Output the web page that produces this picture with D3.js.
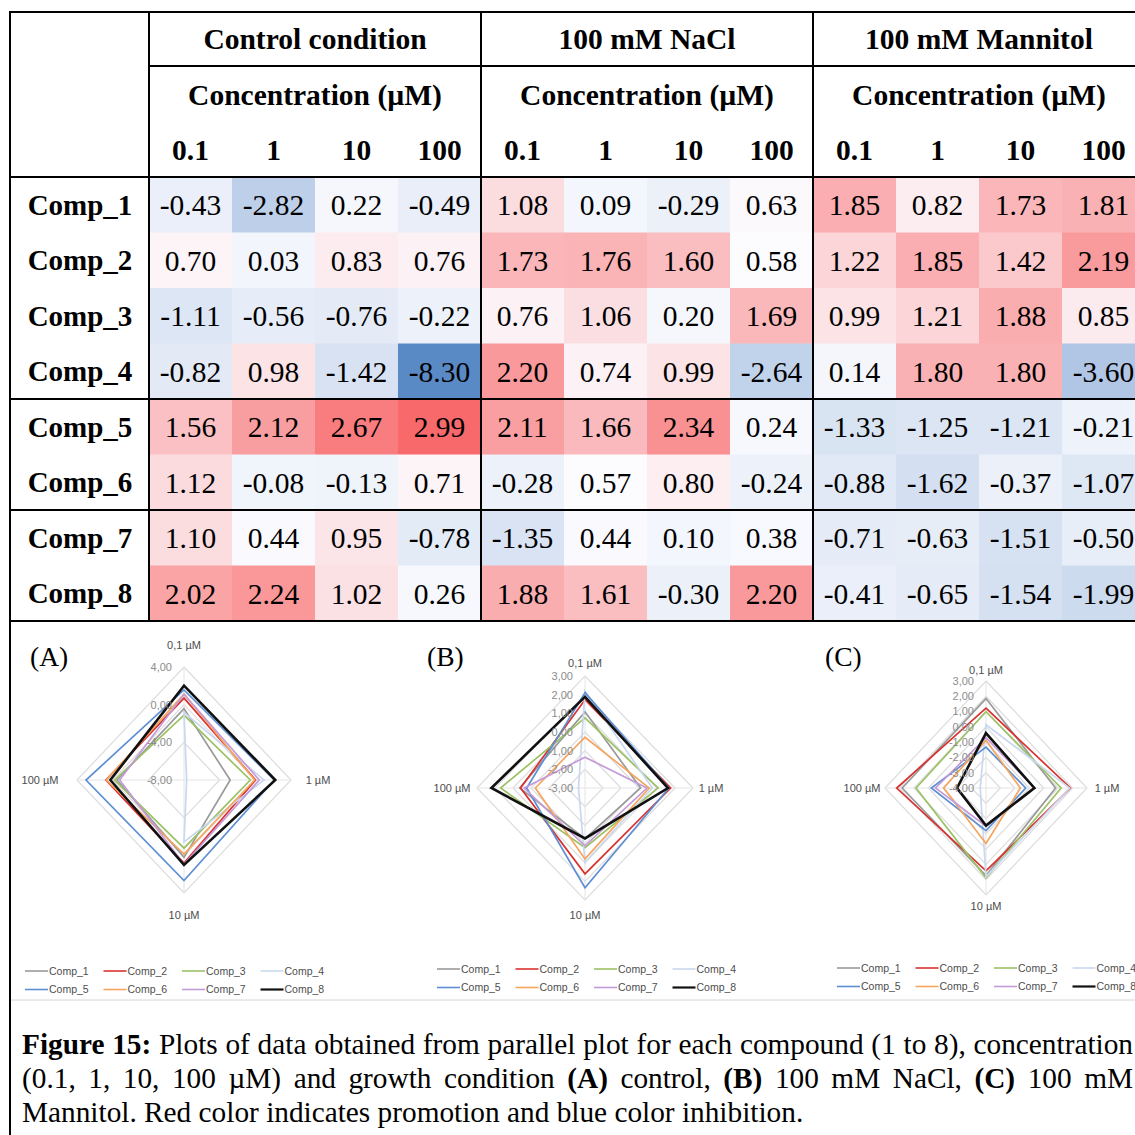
<!DOCTYPE html>
<html>
<head>
<meta charset="utf-8">
<script src="https://cdn.jsdelivr.net/npm/d3@7"></script>
<style>
  html, body { margin: 0; padding: 0; background: #fff; }
  svg { display: block; }
</style>
</head>
<body>
<svg id="fig" width="1135" height="1135"></svg>
<script>
// ---- data ----
const compounds = ["Comp_1", "Comp_2", "Comp_3", "Comp_4", "Comp_5", "Comp_6", "Comp_7", "Comp_8"];
const conditions = ["Control condition", "100 mM NaCl", "100 mM Mannitol"];
const concentrations = ["0.1", "1", "10", "100"];
const radarAxisLabels = ["0,1 µM", "1 µM", "10 µM", "100 µM"];
const panelLetters = ["(A)", "(B)", "(C)"];

// rows = compounds, columns = concentrations
const controlValues = [
  [-0.43, -2.82, 0.22, -0.49],
  [0.70, 0.03, 0.83, 0.76],
  [-1.11, -0.56, -0.76, -0.22],
  [-0.82, 0.98, -1.42, -8.30],
  [1.56, 2.12, 2.67, 2.99],
  [1.12, -0.08, -0.13, 0.71],
  [1.10, 0.44, 0.95, -0.78],
  [2.02, 2.24, 1.02, 0.26]
];
const naclValues = [
  [1.08, 0.09, -0.29, 0.63],
  [1.73, 1.76, 1.60, 0.58],
  [0.76, 1.06, 0.20, 1.69],
  [2.20, 0.74, 0.99, -2.64],
  [2.11, 1.66, 2.34, 0.24],
  [-0.28, 0.57, 0.80, -0.24],
  [-1.35, 0.44, 0.10, 0.38],
  [1.88, 1.61, -0.30, 2.20]
];
const mannitolValues = [
  [1.85, 0.82, 1.73, 1.81],
  [1.22, 1.85, 1.42, 2.19],
  [0.99, 1.21, 1.88, 0.85],
  [0.14, 1.80, 1.80, -3.60],
  [-1.33, -1.25, -1.21, -0.21],
  [-0.88, -1.62, -0.37, -1.07],
  [-0.71, -0.63, -1.51, -0.50],
  [-0.41, -0.65, -1.54, -1.99]
];

// radial axis extents and ring step of the three radar panels
const radarMin = [-8, -3, -4];
const radarMax = [4, 3, 3];
const radarStep = [4, 1, 1];

const seriesColors = ["#9a9a9a", "#d8312f", "#9cc165", "#c8d8ee", "#5e8fd3", "#f6a55e", "#c49ad9", "#111111"];

const captionLines = [
  ["*Figure", "*15:", "Plots", "of", "data", "obtained", "from", "parallel", "plot", "for", "each", "compound", "(1", "to", "8),", "concentration"],
  ["(0.1,", "1,", "10,", "100", "µM)", "and", "growth", "condition", "*(A)", "control,", "*(B)", "100", "mM", "NaCl,", "*(C)", "100", "mM"],
  ["Mannitol.", "Red", "color", "indicates", "promotion", "and", "blue", "color", "inhibition."]
];

// ---- setup ----
const svg = d3.select("#fig");
const serif = "'Liberation Serif', 'Times New Roman', serif";
const sans = "'Liberation Sans', Arial, Helvetica, sans-serif";
const conditionData = [controlValues, naclValues, mannitolValues];

// ---- heat-map table ----
const columnKeys = [];
conditions.forEach((c, ci) => concentrations.forEach((k, ki) => columnKeys.push(ci + "|" + ki)));
const x = d3.scaleBand().domain(columnKeys).range([149, 1145]);
const y = d3.scaleBand().domain(compounds).range([177, 621]);

const allValues = conditionData.flat(2);
const color = d3.scaleLinear()
  .domain([d3.min(allValues), d3.quantile(allValues, 0.5), d3.max(allValues)])
  .range(["#5a8ac6", "#fcfcff", "#f8696b"]);

const cells = [];
conditionData.forEach((tbl, ci) => tbl.forEach((row, ri) => row.forEach((v, ki) => {
  cells.push({ col: ci + "|" + ki, comp: compounds[ri], v });
})));

const table = svg.append("g");
table.selectAll("rect.cell").data(cells).join("rect")
  .attr("class", "cell")
  .attr("x", d => x(d.col)).attr("y", d => y(d.comp))
  .attr("width", x.bandwidth() + 0.5).attr("height", y.bandwidth() + 0.5)
  .attr("fill", d => color(d.v));

table.selectAll("text.val").data(cells).join("text")
  .attr("class", "val")
  .attr("x", d => x(d.col) + x.bandwidth() / 2)
  .attr("y", d => y(d.comp) + y.bandwidth() / 2)
  .attr("dy", "0.35em")
  .attr("text-anchor", "middle")
  .style("font-family", serif).style("font-size", "29.5px").attr("fill", "#000")
  .text(d => d.v.toFixed(2));

table.selectAll("text.comp").data(compounds).join("text")
  .attr("class", "comp")
  .attr("x", 80).attr("y", d => y(d) + y.bandwidth() / 2).attr("dy", "0.35em")
  .attr("text-anchor", "middle")
  .style("font-family", serif).style("font-size", "29px").style("font-weight", "bold")
  .text(d => d);

// header rows
const groupX = ci => x(ci + "|0");
const groupW = x.bandwidth() * 4;
const headerSize = "29.5px";
conditions.forEach((c, ci) => {
  table.append("text")
    .attr("x", groupX(ci) + groupW / 2).attr("y", 39).attr("dy", "0.35em")
    .attr("text-anchor", "middle")
    .style("font-family", serif).style("font-size", headerSize).style("font-weight", "bold")
    .text(c);
  table.append("text")
    .attr("x", groupX(ci) + groupW / 2).attr("y", 95).attr("dy", "0.35em")
    .attr("text-anchor", "middle")
    .style("font-family", serif).style("font-size", headerSize).style("font-weight", "bold")
    .text("Concentration (µM)");
});
table.selectAll("text.conc").data(columnKeys).join("text")
  .attr("class", "conc")
  .attr("x", d => x(d) + x.bandwidth() / 2).attr("y", 150).attr("dy", "0.35em")
  .attr("text-anchor", "middle")
  .style("font-family", serif).style("font-size", headerSize).style("font-weight", "bold")
  .text(d => concentrations[+d.split("|")[1]]);

// grid lines
const rule = (x1, y1, x2, y2, w, c) => table.append("line")
  .attr("x1", x1).attr("y1", y1).attr("x2", x2).attr("y2", y2)
  .attr("stroke", c || "#000").attr("stroke-width", w || 2);
rule(10, 12, 1135, 12);
rule(149, 66, 1135, 66);
rule(10, 177, 1135, 177);
rule(10, y("Comp_5"), 1135, y("Comp_5"));
rule(10, y("Comp_7"), 1135, y("Comp_7"));
rule(10, 621, 1135, 621);
rule(149, 12, 149, 621);
[1, 2].forEach(ci => rule(groupX(ci), 12, groupX(ci), 621));
rule(10, 11, 10, 1135);
rule(11, 1000, 1135, 1000, 1, "#d6d6d6");

// ---- radar charts ----
const radarGeom = [
  { cx: 184, cy: 780, rx: 107, ry: 113, letterX: 30, legX: 25, legY: 971, axisLab: [645, 318, 915, 40] },
  { cx: 585, cy: 788, rx: 108, ry: 112, letterX: 427, legX: 437, legY: 969, axisLab: [663, 711, 915, 452] },
  { cx: 986, cy: 788, rx: 101, ry: 107, letterX: 825, legX: 837, legY: 968, axisLab: [670, 1107, 906, 862] }
];
const angles = concentrations.map((c, i) => i * Math.PI / 2);
const commaFmt = d3.formatLocale({ decimal: ",", thousands: ".", grouping: [3], currency: ["", ""], minus: "-" }).format(".2f");

conditionData.forEach((tbl, pi) => {
  const g = radarGeom[pi];
  const panel = svg.append("g");
  const r = d3.scaleLinear().domain([radarMin[pi], radarMax[pi]]).range([0, 1]);
  const ticks = d3.range(radarMin[pi] + radarStep[pi], radarMax[pi] + radarStep[pi] / 2, radarStep[pi]);
  const pt = (v, i) => [g.cx + g.rx * r(v) * Math.sin(angles[i]), g.cy - g.ry * r(v) * Math.cos(angles[i])];

  // rings and spokes
  const ring = d3.line().curve(d3.curveLinearClosed);
  panel.selectAll("path.ring").data(ticks).join("path")
    .attr("d", t => ring(angles.map((a, i) => pt(t, i))))
    .attr("fill", "none").attr("stroke", "#dcdcdc").attr("stroke-width", 1.2);
  panel.selectAll("line.spoke").data(angles).join("line")
    .attr("x1", g.cx).attr("y1", g.cy)
    .attr("x2", (a, i) => pt(radarMax[pi], i)[0]).attr("y2", (a, i) => pt(radarMax[pi], i)[1])
    .attr("stroke", "#e4e4e4").attr("stroke-width", 1);

  // series
  const line = d3.line().curve(d3.curveLinearClosed);
  panel.selectAll("path.series").data(tbl).join("path")
    .attr("d", row => line(row.map((v, i) => pt(v, i))))
    .attr("fill", "none")
    .attr("stroke", (row, si) => seriesColors[si])
    .attr("stroke-width", (row, si) => si === 7 ? 2.6 : 1.7)
    .attr("stroke-linejoin", "miter");

  // ring value labels
  panel.selectAll("text.tick").data([radarMin[pi]].concat(ticks)).join("text")
    .attr("x", g.cx - 12)
    .attr("y", t => g.cy - g.ry * r(t)).attr("dy", "0.35em")
    .attr("text-anchor", "end")
    .style("font-family", sans).style("font-size", "11px").attr("fill", "#8c8c8c")
    .text(t => commaFmt(t));

  // axis labels
  const L = g.axisLab;
  const labPos = [[g.cx, L[0]], [L[1], g.cy], [g.cx, L[2]], [L[3], g.cy]];
  panel.selectAll("text.axis").data(radarAxisLabels).join("text")
    .attr("x", (d, i) => labPos[i][0]).attr("y", (d, i) => labPos[i][1]).attr("dy", "0.35em")
    .attr("text-anchor", "middle")
    .style("font-family", sans).style("font-size", "11px").attr("fill", "#4d4d4d")
    .text(d => d);

  // panel letter
  panel.append("text")
    .attr("x", g.letterX).attr("y", 666)
    .style("font-family", serif).style("font-size", "27.5px").attr("fill", "#000")
    .text(panelLetters[pi]);

  // legend
  const leg = panel.append("g");
  compounds.forEach((c, si) => {
    const lx = g.legX + (si % 4) * 78.5;
    const ly = g.legY + Math.floor(si / 4) * 18.5;
    leg.append("line").attr("x1", lx).attr("x2", lx + 23).attr("y1", ly).attr("y2", ly)
      .attr("stroke", seriesColors[si]).attr("stroke-width", si === 7 ? 2.2 : 1.6);
    leg.append("text").attr("x", lx + 24).attr("y", ly).attr("dy", "0.35em")
      .style("font-family", sans).style("font-size", "10.5px").attr("fill", "#4d4d4d")
      .text(c);
  });
});

// ---- caption (justified lines) ----
const capSize = 29.3;
const capLeft = 22, capRight = 1133;
captionLines.forEach((words, li) => {
  const ly = 1054 + li * 34;
  const nodes = words.map(w => {
    const bold = w.startsWith("*");
    return svg.append("text")
      .attr("y", ly)
      .style("font-family", serif).style("font-size", capSize + "px")
      .style("font-weight", bold ? "bold" : "normal")
      .text(bold ? w.slice(1) : w);
  });
  const widths = nodes.map(n => n.node().getComputedTextLength());
  const total = d3.sum(widths);
  const justify = li < captionLines.length - 1;
  const gap = justify ? (capRight - capLeft - total) / (words.length - 1) : capSize * 0.25;
  let cx = capLeft;
  nodes.forEach((n, i) => { n.attr("x", cx); cx += widths[i] + gap; });
});
</script>
</body>
</html>
